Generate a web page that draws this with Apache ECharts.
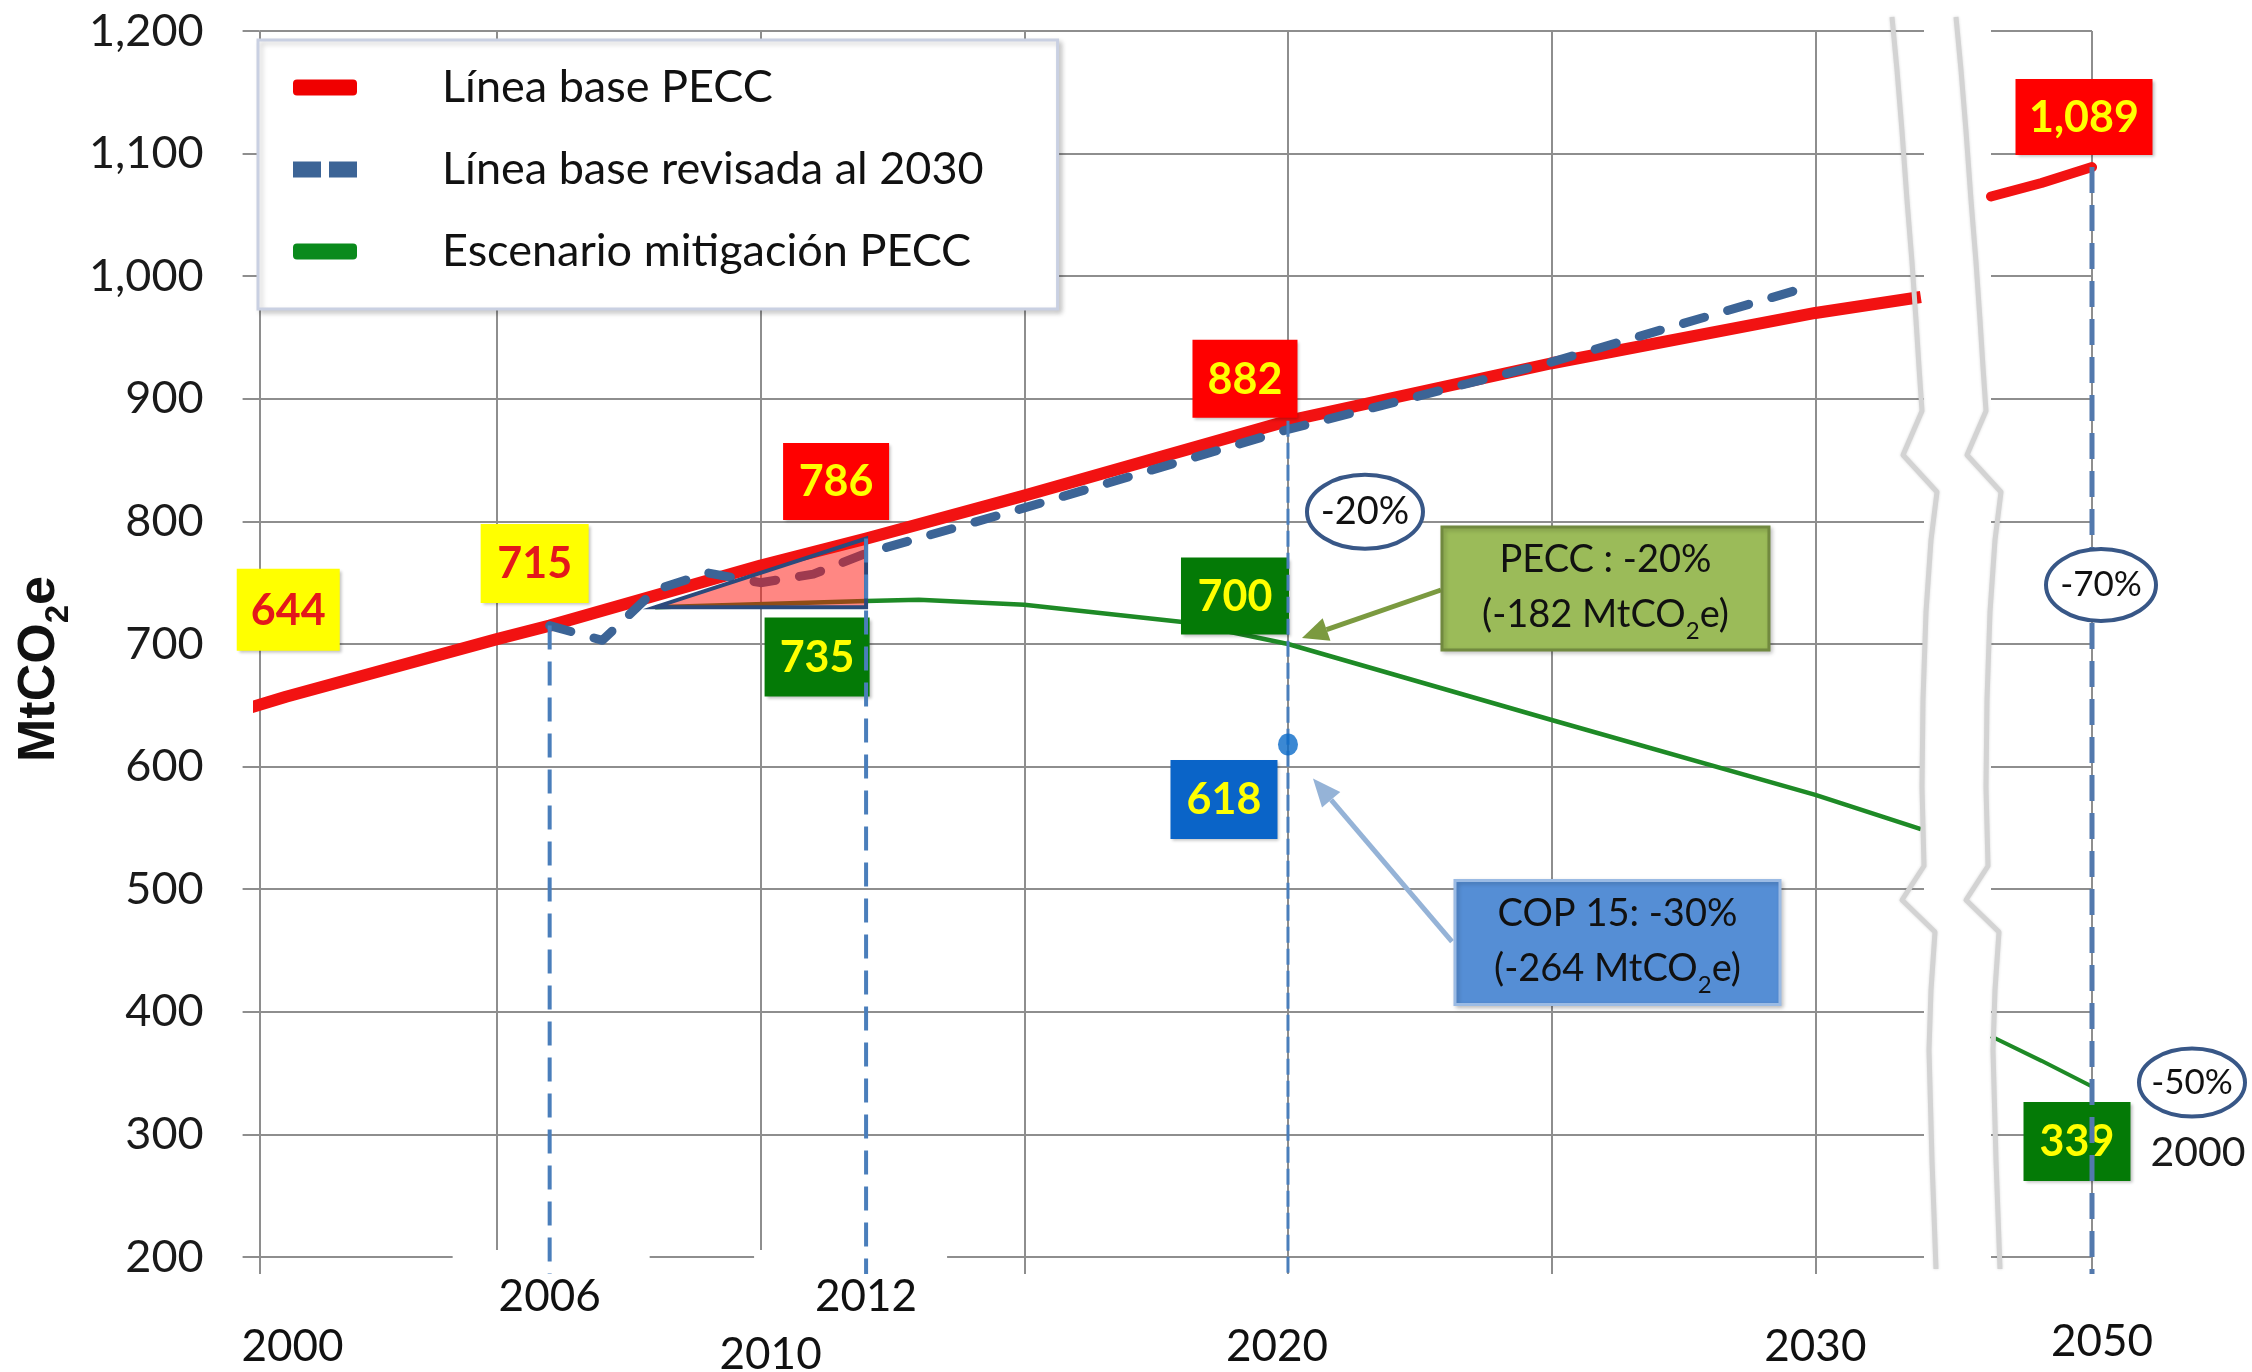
<!DOCTYPE html>
<html><head><meta charset="utf-8">
<script src="https://cdn.jsdelivr.net/npm/echarts@6/dist/echarts.min.js"></script>
<style>html,body{margin:0;padding:0;background:#fff}#c{width:2252px;height:1372px}</style>
</head><body><div id="c"></div>
<script>
// ---------------- data ----------------
const baselineYears  = [2000, 2001, 2005, 2006, 2010, 2012, 2015, 2020, 2025, 2030, 2032];
const baselineValues = [644, 657, 704, 715, 764, 786, 821, 882, 929, 970, 983];
const revisedYears   = [2006, 2007, 2008, 2009, 2010, 2011, 2012, 2015, 2020, 2025, 2030];
const revisedValues  = [715, 703, 744, 758, 750, 757, 774, 811, 875, 930, 993];
const mitigationYears  = [2008, 2012, 2013, 2015, 2018, 2020, 2025, 2030, 2032];
const mitigationValues = [730, 735, 736, 732, 718, 700, 638, 577, 549];
const baseline2050Years  = [2048, 2049, 2050];
const baseline2050Values = [1065, 1076, 1089];
const mitigation2050Years  = [2048, 2049, 2050];
const mitigation2050Values = [380, 360, 339];
const cop15Point = [2020, 618];
const reductionTriangle = [[2008, 730], [2012, 730], [2012, 786]];
const labelYears  = [2000, 2006, 2012, 2012, 2020, 2020, 2020];
const labelValues = [644, 715, 786, 735, 882, 700, 618];
const label2050Years  = [2050, 2050];
const label2050Values = [1089, 339];
const guideYears  = [2006, 2012, 2020];
const guideValues = [715, 786, 882];
const guide2050Years  = [2050];
const guide2050Values = [1089];
const xMinLeft = 2000.5, xMaxLeft = 2032.06;
const xTickValues  = [xMinLeft, 2005, 2010, 2015, 2020, 2025, 2030];
const xLabelValues = [xMinLeft, 2010, 2020, 2030];
const xTickLabels  = ['2000', '2010', '2020', '2030'];
const x2050TickLabels = ['2050'];
const yTickValues = [200, 300, 400, 500, 600, 700, 800, 900, 1000, 1100, 1200];
const yTickLabels = ['200', '300', '400', '500', '600', '700', '800', '900', '1,000', '1,100', '1,200'];
const seriesNames = ['Línea base PECC', 'Línea base revisada al 2030', 'Escenario mitigación PECC'];

// ---------------- styles ----------------
const FONT = 'Lato';
const GRID_C = '#8e8e8e';
const RED = '#f21212', DASH_BLUE = '#3c6496', GREEN = '#1e8a26';
const labelBoxStyles = [
  {dx: 55, dy: -103, w: 103, h: 82, fill: '#ffff00', color: '#e3181b'},
  {dx: -15, dy: -62, w: 108, h: 79, fill: '#ffff00', color: '#e3181b'},
  {dx: -30, dy: -57, w: 106, h: 77, fill: '#ff0000', color: '#ffff00'},
  {dx: -49, dy: 56, w: 105, h: 79, fill: '#047a06', color: '#ffff00'},
  {dx: -43, dy: -42, w: 105, h: 78, fill: '#ff0000', color: '#ffff00'},
  {dx: -53, dy: -48, w: 108, h: 77, fill: '#047a06', color: '#ffff00'},
  {dx: -64, dy: 55, w: 107, h: 79, fill: '#0a64c8', color: '#ffff00'}
];
const label2050Styles = [
  {dx: -8, dy: -50, w: 137, h: 76, fill: '#ff0000', color: '#ffff00'},
  {dx: -15, dy: 55, w: 107, h: 79, fill: '#047a06', color: '#ffff00'}
];
const guideStyles = [
  {label: true, maskL: -97, maskR: 100, color: '#4a7ebb', width: 4, dash: [24, 12]},
  {label: true, maskL: -112, maskR: 81, color: '#4a7ebb', width: 4, dash: [24, 12]},
  {label: false, color: '#4a7ebb', width: 3, dash: [16, 6]}
];
const guide2050Styles = [{label: false, color: '#5379ad', width: 5, dash: [26, 12]}];

const zip = (a, b) => a.map((v, i) => [v, b[i]]);
const fmt = v => Number(v).toLocaleString('en-US');

function boxRenderer(styles) {
  return function (params, api) {
    const p = api.coord([api.value(0), api.value(1)]);
    const s = styles[params.dataIndex];
    const cx = p[0] + s.dx, cy = p[1] + s.dy;
    return {
      type: 'group',
      children: [
        {type: 'rect', shape: {x: cx - s.w / 2, y: cy - s.h / 2, width: s.w, height: s.h},
         style: {fill: s.fill, shadowBlur: 3, shadowColor: 'rgba(0,0,0,0.25)', shadowOffsetX: 2, shadowOffsetY: 2}},
        {type: 'text', x: cx, y: cy + 1,
         style: {text: fmt(api.value(1)), fill: s.color, font: 'bold 43px ' + FONT, align: 'center', verticalAlign: 'middle'}}
      ]
    };
  };
}
function guideRenderer(styles) {
  return function (params, api) {
    const x = api.value(0);
    const p = api.coord([x, api.value(1)]);
    const yAxisPx = api.coord([x, 200])[1];
    const yEnd = yAxisPx + 17;
    const s = styles[params.dataIndex];
    const children = [];
    if (s.label) {
      children.push({type: 'rect', shape: {x: p[0] + s.maskL, y: yAxisPx - 7, width: s.maskR - s.maskL, height: 72}, style: {fill: '#ffffff'}});
      children.push({type: 'text', x: p[0], y: yEnd + 23,
        style: {text: String(x), fill: '#111', font: '44px ' + FONT, align: 'center', verticalAlign: 'middle'}});
    }
    children.push({type: 'line', shape: {x1: p[0], y1: p[1], x2: p[0], y2: yEnd},
      style: {stroke: s.color, lineWidth: s.width, lineDash: s.dash}});
    return {type: 'group', children};
  };
}

const axisTickStyle = {color: GRID_C, width: 2};
const option = {
  animation: false,
  backgroundColor: '#ffffff',
  textStyle: {fontFamily: FONT},
  grid: [
    {left: 259.6, right: 328, top: 31, bottom: 115, containLabel: false, outerBoundsMode: 'none'},
    {left: 1991, right: 160, top: 31, bottom: 115, containLabel: false, outerBoundsMode: 'none'}
  ],
  legend: {
    left: 258, top: 40, orient: 'vertical', selectedMode: false,
    itemWidth: 64, itemHeight: 16, itemGap: 31,
    padding: [22, 74, 32, 35],
    backgroundColor: '#ffffff', borderColor: '#c9d0e2', borderWidth: 3,
    shadowBlur: 5, shadowColor: 'rgba(0,0,0,0.18)', shadowOffsetX: 3, shadowOffsetY: 3,
    textStyle: {fontFamily: FONT, fontSize: 45, color: '#111', lineHeight: 51, padding: [0, 0, 0, 80]},
    data: [
      {name: seriesNames[0], icon: 'roundRect', itemStyle: {color: '#f00000'}},
      {name: seriesNames[1], icon: 'path://M0,0H28V16H0Z M36,0H64V16H36Z', itemStyle: {color: DASH_BLUE}},
      {name: seriesNames[2], icon: 'roundRect', itemStyle: {color: '#0a8a1c'}}
    ]
  },
  xAxis: [
    {
      type: 'value', gridIndex: 0, min: xMinLeft, max: xMaxLeft,
      axisLine: {show: false},
      axisTick: {show: true, length: 17, lineStyle: axisTickStyle, customValues: xTickValues},
      splitLine: {show: true, lineStyle: {color: GRID_C, width: 2}},
      axisLabel: {
        customValues: xLabelValues, margin: 68, color: '#111',
        fontFamily: FONT, fontSize: 44,
        formatter: v => {
          const i = xLabelValues.indexOf(v);
          return i < 0 ? '' : '{p' + i + '|' + xTickLabels[i] + '}';
        },
        rich: {
          p0: {fontFamily: FONT, fontSize: 44, color: '#111', padding: [0, 0, 0, 66]},
          p1: {fontFamily: FONT, fontSize: 44, color: '#111', padding: [8, 0, 0, 20]},
          p2: {fontFamily: FONT, fontSize: 44, color: '#111', padding: [0, 22, 0, 0]},
          p3: {fontFamily: FONT, fontSize: 44, color: '#111'}
        }
      }
    },
    {
      type: 'value', gridIndex: 1, min: 2048, max: 2050,
      axisLine: {show: false},
      axisTick: {show: true, length: 17, lineStyle: axisTickStyle, customValues: [2050]},
      splitLine: {show: true, lineStyle: {color: GRID_C, width: 2}},
      axisLabel: {
        customValues: [2050], margin: 63,
        formatter: () => '{p|' + x2050TickLabels[0] + '}',
        rich: {p: {fontFamily: FONT, fontSize: 44, color: '#111', padding: [0, 0, 0, 20]}}
      }
    }
  ],
  yAxis: [
    {
      type: 'value', gridIndex: 0, min: 200, max: 1200, interval: 100,
      axisLine: {show: false},
      axisTick: {show: true, length: 17, lineStyle: axisTickStyle},
      splitLine: {show: true, lineStyle: {color: GRID_C, width: 2}},
      axisLabel: {
        margin: 56, fontFamily: FONT, fontSize: 45, color: '#1a1a1a',
        formatter: v => yTickLabels[yTickValues.indexOf(v)] || ''
      },
      name: 'MtCO{sub|2}e', nameLocation: 'middle', nameRotate: 90, nameGap: 184,
      nameTextStyle: {
        fontFamily: 'Liberation Sans', fontWeight: 'bold', fontSize: 52, color: '#111',
        padding: [0, 50, 0, 0],
        rich: {sub: {fontFamily: 'Liberation Sans', fontWeight: 'bold', fontSize: 33, lineHeight: 72, verticalAlign: 'bottom', color: '#111'}}
      }
    },
    {
      type: 'value', gridIndex: 1, min: 200, max: 1200, interval: 100,
      axisLine: {show: false}, axisTick: {show: false}, axisLabel: {show: false},
      splitLine: {show: true, lineStyle: {color: GRID_C, width: 2}}
    }
  ],
  series: [
    {name: seriesNames[0], type: 'line', xAxisIndex: 0, yAxisIndex: 0, data: zip(baselineYears, baselineValues),
     showSymbol: false, z: 2, lineStyle: {color: RED, width: 12, cap: 'butt', join: 'round'}, itemStyle: {color: RED}},
    {name: seriesNames[1], type: 'line', xAxisIndex: 0, yAxisIndex: 0, data: zip(revisedYears, revisedValues),
     showSymbol: false, z: 3, lineStyle: {color: DASH_BLUE, width: 9, type: [22, 24], cap: 'round', join: 'round'}, itemStyle: {color: DASH_BLUE}},
    {name: seriesNames[2], type: 'line', xAxisIndex: 0, yAxisIndex: 0, data: zip(mitigationYears, mitigationValues),
     showSymbol: false, z: 2, lineStyle: {color: GREEN, width: 4.5, join: 'round'}, itemStyle: {color: GREEN}},
    {name: seriesNames[0], type: 'line', xAxisIndex: 1, yAxisIndex: 1, data: zip(baseline2050Years, baseline2050Values),
     showSymbol: false, z: 2, lineStyle: {color: RED, width: 10, cap: 'round'}, itemStyle: {color: RED}},
    {name: seriesNames[2], type: 'line', xAxisIndex: 1, yAxisIndex: 1, data: zip(mitigation2050Years, mitigation2050Values),
     showSymbol: false, z: 2, lineStyle: {color: GREEN, width: 4}, itemStyle: {color: GREEN}},
    {name: 'reduccion', type: 'custom', xAxisIndex: 0, yAxisIndex: 0, z: 4, silent: true, clip: false,
     data: [reductionTriangle[0]],
     renderItem: (params, api) => ({
       type: 'polygon',
       shape: {points: reductionTriangle.map(pt => api.coord(pt))},
       style: {fill: 'rgba(255,16,8,0.5)', stroke: '#2b4a7c', lineWidth: 4, lineJoin: 'miter'}
     })},
    {name: 'valores', type: 'custom', xAxisIndex: 0, yAxisIndex: 0, z: 6, silent: true, clip: false,
     data: zip(labelYears, labelValues), renderItem: boxRenderer(labelBoxStyles)},
    {name: 'valores2050', type: 'custom', xAxisIndex: 1, yAxisIndex: 1, z: 6, silent: true, clip: false,
     data: zip(label2050Years, label2050Values), renderItem: boxRenderer(label2050Styles)},
    {name: 'guias', type: 'custom', xAxisIndex: 0, yAxisIndex: 0, z: 7, silent: true, clip: false,
     data: zip(guideYears, guideValues), renderItem: guideRenderer(guideStyles)},
    {name: 'guias2050', type: 'custom', xAxisIndex: 1, yAxisIndex: 1, z: 7, silent: true, clip: false,
     data: zip(guide2050Years, guide2050Values), renderItem: guideRenderer(guide2050Styles)},
    {name: 'COP 15', type: 'scatter', xAxisIndex: 0, yAxisIndex: 0, z: 8, data: [cop15Point],
     symbol: 'circle', symbolSize: [20, 22], itemStyle: {color: '#0a6ac8'}}
  ]
};

const chart = echarts.init(document.getElementById('c'), null, {renderer: 'canvas'});
chart.setOption(option);

// ---------------- annotations (anchored on data points) ----------------
const P = (g, pt) => chart.convertToPixel({xAxisIndex: g, yAxisIndex: g}, pt);
const a882 = P(0, [labelYears[4], labelValues[4]]);
const a700 = P(0, [labelYears[5], labelValues[5]]);
const a618 = P(0, cop15Point);
const a1089 = P(1, [label2050Years[0], label2050Values[0]]);
const a339 = P(1, [label2050Years[1], label2050Values[1]]);
const leftEdgeRight = P(0, [xMaxLeft, 200])[0];

const subRich = {sub: {fontFamily: FONT, fontSize: 24, lineHeight: 58, verticalAlign: 'bottom', fill: '#111'}};
function ellipse(cx, cy, rx, ry, text, fs) {
  return [
    {type: 'ellipse', z: 20, shape: {cx, cy, rx, ry}, style: {fill: '#fff', stroke: '#385787', lineWidth: 4}},
    {type: 'text', z: 21, x: cx, y: cy, style: {text, fill: '#111', font: fs + 'px ' + FONT, align: 'center', verticalAlign: 'middle'}}
  ];
}
function callout(x, y, w, h, fill, stroke, text) {
  return [
    {type: 'rect', z: 20, shape: {x, y, width: w, height: h}, style: {fill, stroke, lineWidth: 3, shadowBlur: 4, shadowColor: 'rgba(0,0,0,0.2)', shadowOffsetX: 2, shadowOffsetY: 2}},
    {type: 'text', z: 21, x: x + w / 2, y: y + h / 2,
     style: {text, rich: subRich, fill: '#111', font: '38px ' + FONT, lineHeight: 52, align: 'center', verticalAlign: 'middle'}}
  ];
}
function arrow(tail, tip, color, width, headL, headW) {
  const dx = tip[0] - tail[0], dy = tip[1] - tail[1];
  const L = Math.hypot(dx, dy), ux = dx / L, uy = dy / L;
  const bx = tip[0] - ux * headL, by = tip[1] - uy * headL;
  const px = -uy * headW / 2, py = ux * headW / 2;
  return [
    {type: 'line', z: 19, shape: {x1: tail[0], y1: tail[1], x2: bx, y2: by}, style: {stroke: color, lineWidth: width}},
    {type: 'polygon', z: 19, shape: {points: [tip, [bx + px, by + py], [bx - px, by - py]]}, style: {fill: color}}
  ];
}
// axis-break symbol (decoration): offsets from the start of the gap, in pixels
const breakShape = [[0, 17], [5, 70], [10, 131], [15, 200], [20, 262], [24, 320], [27, 367], [30, 411], [11, 455], [45, 492], [39, 540], [34, 612], [31, 700], [30, 787], [32, 866], [10, 900], [43, 932], [39, 990], [37, 1050], [40, 1160], [44, 1269]];
function breakLine(x0) {
  return {type: 'polyline', z: 15, shape: {points: breakShape.map(p => [x0 + p[0], p[1]])},
    style: {stroke: '#d3d3d3', lineWidth: 5, lineJoin: 'round', fill: null, shadowBlur: 3, shadowColor: 'rgba(0,0,0,0.15)'}};
}

const graphic = [].concat(
  ellipse(a882[0] + 77, a882[1] + 91, 58, 37, '-20%', 38),
  ellipse(a1089[0] + 9, a1089[1] + 418, 55, 36, '-70%', 35),
  ellipse(a339[0] + 100, a339[1] - 4, 53, 34, '-50%', 35),
  [{type: 'text', z: 21, x: a339[0] + 106, y: a339[1] + 66, style: {text: '2000', fill: '#1a1a1a', font: '41px ' + FONT, align: 'center', verticalAlign: 'middle'}}],
  callout(a700[0] + 154, a700[1] - 117, 327, 123, '#9bbb59', '#71893f', 'PECC : -20%\n(-182 MtCO{sub|2}e)'),
  arrow([a700[0] + 153, a700[1] - 54], [a700[0] + 14, a700[1] - 6], '#7b9a40', 5, 26, 24),
  callout(a618[0] + 167, a618[1] + 136, 325, 124, '#558ed5', '#9bbbe4', 'COP 15: -30%\n(-264 MtCO{sub|2}e)'),
  arrow([a618[0] + 164, a618[1] + 197], [a618[0] + 25, a618[1] + 34], '#95b3d7', 5, 28, 24),
  [breakLine(leftEdgeRight - 32), breakLine(leftEdgeRight + 32)]
);
chart.setOption({graphic});
</script>
</body></html>
